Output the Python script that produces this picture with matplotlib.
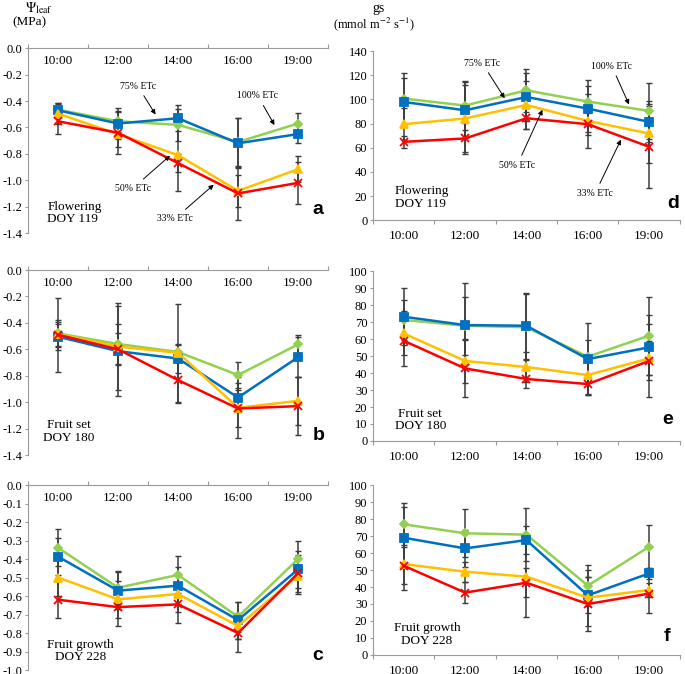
import numpy as np
import matplotlib
matplotlib.use('Agg')
import matplotlib.pyplot as plt

plt.rcParams['font.family'] = ['Liberation Serif', 'DejaVu Serif']
plt.rcParams['mathtext.fontset'] = 'stix'
plt.rcParams['axes.unicode_minus'] = False

times = ['10:00', '12:00', '14:00', '16:00', '19:00']
treatments = ['100% ETc', '75% ETc', '50% ETc', '33% ETc']
colors = ['#92D050', '#0070C0', '#FFC000', '#FF0000']
markers = ['D', 's', '^', 'x']
msizes = [4, 5.5, 5.5, 5.5]

# leaf water potential (MPa), order: 100, 75, 50, 33 % ETc
a_mean = [[-0.465, -0.553, -0.58, -0.71, -0.57],
          [-0.47, -0.57, -0.53, -0.72, -0.65],
          [-0.495, -0.65, -0.81, -1.08, -0.917],
          [-0.553, -0.64, -0.87, -1.10, -1.02]]
a_err = [[0.05, 0.08, 0.12, 0.18, 0.08],
         [0.05, 0.12, 0.10, 0.19, 0.07],
         [0.08, 0.10, 0.27, 0.12, 0.10],
         [0.10, 0.16, 0.07, 0.20, 0.16]]

b_mean = [[-0.48, -0.56, -0.62, -0.795, -0.563],
          [-0.505, -0.614, -0.67, -0.965, -0.66],
          [-0.485, -0.58, -0.626, -1.043, -0.99],
          [-0.49, -0.60, -0.833, -1.048, -1.03]]
b_err = [[0.10, 0.15, 0.05, 0.10, 0.07],
         [0.10, 0.34, 0.11, 0.11, 0.15],
         [0.09, 0.33, 0.37, 0.23, 0.18],
         [0.28, 0.12, 0.17, 0.14, 0.22]]

c_mean = [[-0.339, -0.555, -0.486, -0.712, -0.40],
          [-0.387, -0.571, -0.544, -0.73, -0.456],
          [-0.50, -0.618, -0.589, -0.762, -0.49],
          [-0.62, -0.66, -0.645, -0.80, -0.477]]
c_err = [[0.10, 0.09, 0.10, 0.08, 0.10],
         [0.10, 0.10, 0.10, 0.10, 0.10],
         [0.10, 0.10, 0.10, 0.07, 0.10],
         [0.10, 0.10, 0.10, 0.10, 0.10]]

# stomatal conductance (mmol m-2 s-1)
d_mean = [[100.7, 94.9, 107.5, 98.2, 90.5],
          [97.9, 91.0, 102.0, 92.4, 81.4],
          [79.5, 84.2, 95.4, 82.2, 71.8],
          [64.9, 67.7, 84.4, 79.5, 60.8]]
d_err = [[21, 20, 18, 18, 23],
         [20, 23, 20, 19, 17],
         [13, 28, 20, 22, 24],
         [5, 13, 9, 9, 34]]

e_mean = [[71.2, 67.8, 66.9, 49.6, 62.0],
          [73.1, 68.2, 67.8, 48.2, 55.1],
          [63.3, 47.1, 43.5, 38.8, 48.6],
          [59.0, 42.7, 36.5, 33.5, 47.1]]
e_err = [[12, 17, 19.5, 10, 23],
         [16.7, 25, 19.5, 21, 19],
         [13, 13, 9, 12, 10],
         [15, 17, 5.5, 6, 21.5]]

f_mean = [[76.9, 71.6, 70.8, 40.8, 63.7],
          [69.0, 62.7, 67.6, 35.1, 48.0],
          [53.5, 49.0, 46.1, 33.7, 38.2],
          [52.5, 36.7, 42.5, 30.0, 36.1]]
f_err = [[12.4, 14, 15.5, 12, 12.8],
         [18, 11, 8, 10.6, 3],
         [15, 6, 23.6, 16.5, 4],
         [11, 6.3, 8.5, 15.7, 11.2]]

spine_col = '#9a9a9a'
fig = plt.figure(figsize=(6.85, 6.74), dpi=100)


def draw_series(ax, means, errs):
    x = np.arange(len(times))
    for m, e in zip(means, errs):
        ax.errorbar(x, m, yerr=e, fmt='none', ecolor='#3c3c3c', elinewidth=1.1,
                    capsize=2.5, capthick=1.0, zorder=2)
    for m, c, mk, ms in zip(means, colors, markers, msizes):
        ax.plot(x, m, color=c, marker=mk, ms=ms, lw=1.8, mew=1.3, zorder=3)
    ax.set_xlim(-0.5, 4.5)
    ax.set_xticks(np.arange(-0.5, 5, 1))
    ax.set_xticklabels([])
    for s in ax.spines.values():
        s.set_color(spine_col)
    ax.tick_params(axis='both', colors=spine_col, labelcolor='black', labelsize=9, length=3)
    ax.tick_params(axis='y', length=2.5, pad=1.5)


def psi_panel(rect, means, errs, ymin, step, desc, desc_xy, ha, letter, letter_xy):
    ax = fig.add_axes(rect)
    draw_series(ax, means, errs)
    ax.set_ylim(ymin, 0)
    ax.set_yticks(np.round(np.arange(0, ymin - step / 2, -step), 2))
    ax.set_yticklabels(['%.1f' % v for v in ax.get_yticks()])
    ax.spines['bottom'].set_visible(False)
    ax.spines['right'].set_visible(False)
    ax.xaxis.tick_top()
    for i, t in enumerate(times):
        ax.text(i, 0.93, t, transform=ax.get_xaxis_transform(), ha='center', va='center', fontsize=9.5)
    ax.text(desc_xy[0], desc_xy[1], desc, ha=ha, va='center', fontsize=9.5, linespacing=1.05)
    ax.text(letter_xy[0], letter_xy[1], letter, transform=ax.transAxes, ha='center', va='center',
            fontsize=14, fontweight='bold', family='Liberation Sans')
    return ax


def gs_panel(rect, means, errs, ymax, step, desc, desc_xy, ha, letter, letter_xy):
    ax = fig.add_axes(rect)
    draw_series(ax, means, errs)
    ax.set_ylim(0, ymax)
    ax.set_yticks(np.arange(0, ymax + 1, step))
    ax.spines['top'].set_visible(False)
    ax.spines['right'].set_visible(False)
    ax.set_xticks(np.arange(len(times)), minor=True)
    ax.set_xticklabels(times, minor=True)
    ax.tick_params(axis='x', which='minor', length=0, pad=7, labelsize=9.5)
    ax.text(desc_xy[0], desc_xy[1], desc, ha=ha, va='center', fontsize=9.5, linespacing=1.05)
    ax.text(letter_xy[0], letter_xy[1], letter, transform=ax.transAxes, ha='center', va='center',
            fontsize=14, fontweight='bold', family='Liberation Sans')
    return ax


arrow = dict(arrowstyle='-|>', color='black', lw=0.7, mutation_scale=7)

ax_a = psi_panel([0.0409, 0.6543, 0.438, 0.274], a_mean, a_err, -1.4, 0.2,
                 'Flowering\nDOY 119', (-0.18, -1.25), 'left', 'a', (0.967, 0.125))
ax_a.annotate('75% ETc', xy=(1.65, -0.52), xytext=(1.33, -0.286), fontsize=7,
              ha='center', va='center', arrowprops=arrow)
ax_a.annotate('100% ETc', xy=(3.63, -0.60), xytext=(3.33, -0.36), fontsize=7,
              ha='center', va='center', arrowprops=arrow)
ax_a.annotate('50% ETc', xy=(1.9, -0.80), xytext=(1.25, -1.06), fontsize=7,
              ha='center', va='center', arrowprops=arrow)
ax_a.annotate('33% ETc', xy=(2.63, -1.02), xytext=(1.95, -1.29), fontsize=7,
              ha='center', va='center', arrowprops=arrow)

psi_panel([0.0409, 0.3249, 0.438, 0.2745], b_mean, b_err, -1.4, 0.2,
          'Fruit set\nDOY 180', (0.18, -1.223), 'center', 'b', (0.967, 0.103))
psi_panel([0.0409, 0.0059, 0.438, 0.2745], c_mean, c_err, -1.0, 0.1,
          'Fruit growth\nDOY 228', (0.37, -0.897), 'center', 'c', (0.967, 0.076))

ax_d = gs_panel([0.5445, 0.6731, 0.448, 0.2512], d_mean, d_err, 140, 20,
                'Flowering\nDOY 119', (-0.14, 18.9), 'left', 'd', (0.977, 0.10))
ax_d.annotate('75% ETc', xy=(1.67, 99), xytext=(1.28, 130), fontsize=7,
              ha='center', va='center', arrowprops=arrow)
ax_d.annotate('100% ETc', xy=(3.69, 93.7), xytext=(3.39, 127.6), fontsize=7,
              ha='center', va='center', arrowprops=arrow)
ax_d.annotate('50% ETc', xy=(2.28, 93.5), xytext=(1.85, 45.7), fontsize=7,
              ha='center', va='center', arrowprops=arrow)
ax_d.annotate('33% ETc', xy=(3.56, 68.8), xytext=(3.12, 22.5), fontsize=7,
              ha='center', va='center', arrowprops=arrow)

gs_panel([0.5445, 0.3457, 0.448, 0.2522], e_mean, e_err, 100, 10,
         'Fruit set\nDOY 180', (0.27, 12.4), 'center', 'e', (0.961, 0.124))
gs_panel([0.5445, 0.0282, 0.448, 0.2522], f_mean, f_err, 100, 10,
         'Fruit growth\nDOY 228', (0.38, 12.0), 'center', 'f', (0.957, 0.106))

fig.text(0.057, 0.988, r'$\Psi_{\mathrm{leaf}}$', ha='center', va='center', fontsize=10)
fig.text(0.043, 0.967, '(MPa)', ha='center', va='center', fontsize=9.5)
fig.text(0.553, 0.988, 'gs', ha='center', va='center', fontsize=10)
fig.text(0.546, 0.964, r'(mmol m$^{-2}$ s$^{-1}$)', ha='center', va='center', fontsize=9)

fig.savefig('out.png', dpi=100)
